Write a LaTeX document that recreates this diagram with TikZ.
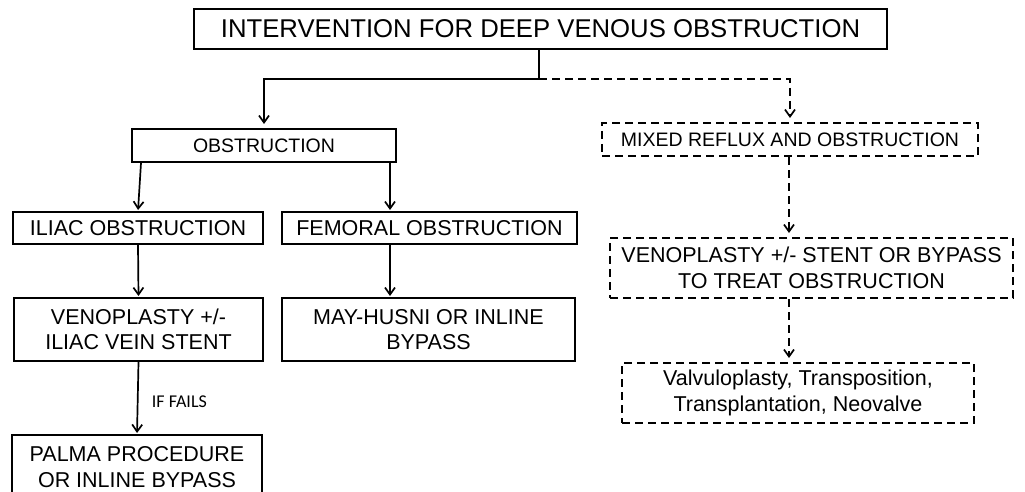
\documentclass[tikz,border=0pt]{standalone}
\usepackage{fontspec}
\setmainfont{Liberation Sans}
\newfontfamily\calfont{Carlito}
\usetikzlibrary{arrows.meta,calc}
\tikzset{
  box/.style={draw=black, line width=2pt, rectangle, inner sep=0pt, align=center, text=black},
  dbox/.style={box, dash pattern=on 8pt off 5pt},
  arr/.style={line width=1.7pt, -{Straight Barb[length=7pt,width=10pt,line width=1.7pt]}, shorten >=4pt},
  darr/.style={arr, dash pattern=on 8pt off 5pt},
  ln/.style={line width=1.7pt},
  fbig/.style={font=\fontsize{25.7}{30}\selectfont},
  fmid/.style={font=\fontsize{21.5}{25.5}\selectfont},
  fsmall/.style={font=\fontsize{19.5}{23}\selectfont},
}
\begin{document}
\begin{tikzpicture}[x=1pt,y=-1pt]
\clip (0,0) rectangle (1025,492);
\fill[white] (0,0) rectangle (1025,492);
\node[box,fbig,minimum width=693pt,minimum height=40pt] (top) at (540.5,29) {INTERVENTION FOR DEEP VENOUS OBSTRUCTION};
\node[box,fsmall,minimum width=264pt,minimum height=33pt] (obs) at (264,145.5) {OBSTRUCTION};
\node[dbox,fsmall,minimum width=376pt,minimum height=33pt] (mixed) at (790,139.5) {MIXED REFLUX AND OBSTRUCTION};
\node[box,fmid,minimum width=250pt,minimum height=32pt] (iliac) at (138,228) {ILIAC OBSTRUCTION};
\node[box,fmid,minimum width=295pt,minimum height=32pt] (fem) at (429.5,228) {FEMORAL OBSTRUCTION};
\node[box,fmid,minimum width=249pt,minimum height=63pt] (veno) at (138.5,329.5) {VENOPLASTY +/-\\ILIAC VEIN STENT};
\node[box,fmid,minimum width=293pt,minimum height=63pt] (may) at (428.5,329.5) {MAY-HUSNI OR INLINE\\BYPASS};
\node[box,fmid,minimum width=250pt,minimum height=64pt] (palma) at (137,467) {PALMA PROCEDURE\\OR INLINE BYPASS};
\node[dbox,fmid,minimum width=403pt,minimum height=60pt] (stent) at (811.5,268) {VENOPLASTY +/- STENT OR BYPASS\\TO TREAT OBSTRUCTION};
\node[dbox,fmid,minimum width=352pt,minimum height=60pt] (valv) at (798,393) {Valvuloplasty, Transposition,\\Transplantation, Neovalve};
% connectors
\coordinate (j) at (539,79);
\draw[ln] (j |- top.south) -- (j);
\draw[arr] (j) -| (obs.north);
\draw[darr] (j) -| (mixed.north);
\draw[arr, shorten >=1pt] ($(obs.south west)+(10,0)$) -- (iliac.north);
\coordinate (fx) at ($(obs.south east)+(-7,0)$);
\draw[arr, shorten >=1pt] (fx) -- (fx |- fem.north);
\draw[arr, shorten >=1pt] (iliac.south) -- (veno.north);
\draw[arr, shorten >=1pt] (fx |- fem.south) -- (fx |- may.north);
\draw[arr, shorten >=1pt] (veno.south) -- node[right=10pt, yshift=-4pt, font=\calfont\fontsize{18}{20}\selectfont] (iffails) {IF FAILS} (palma.north);
\coordinate (mx) at ($(mixed.south)+(-1,0)$);
\draw[darr] (mx) -- (mx |- stent.north);
\draw[darr] (mx |- stent.south) -- (mx |- valv.north);
\end{tikzpicture}
\end{document}
